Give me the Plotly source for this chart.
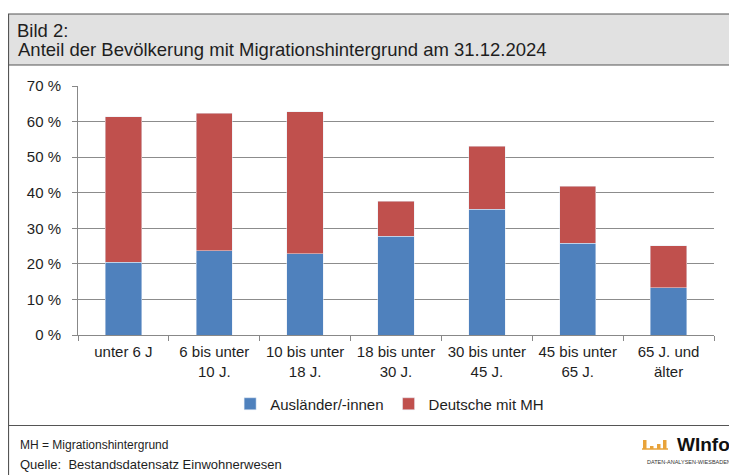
import plotly.graph_objects as go

categories = ["unter 6 J", "6 bis unter<br>10 J.", "10 bis unter<br>18 J.", "18 bis unter<br>30 J.",
              "30 bis unter<br>45 J.", "45 bis unter<br>65 J.", "65 J. und<br>älter"]
auslaender = [20.5, 23.7, 22.8, 27.8, 35.4, 25.8, 13.3]
deutsche_mh = [40.9, 38.6, 39.9, 9.8, 17.6, 16.0, 11.8]
ytick_vals = [0, 10, 20, 30, 40, 50, 60, 70]
ytick_text = ["0 %", "10 %", "20 %", "30 %", "40 %", "50 %", "60 %", "70 %"]

# page body has an 8px margin: figure pixel = screen pixel - 8
OFF = 8
W, H = 737 - OFF, 475 - OFF
PL, PR, PT, PB = 78, 714, 86, 335          # plot area in screen pixels
L, R, T, B = PL - OFF, W - (PR - OFF), PT - OFF, H - (PB - OFF)
pw, ph = W - L - R, H - T - B

def px(x):
    return (x - OFF - L) / pw

def py(y):
    return (H - B - (y - OFF)) / ph

FONT = "Liberation Sans, Arial, sans-serif"
TXT = "#1e1e1e"

fig = go.Figure()
fig.add_bar(x=categories, y=auslaender, name="Ausländer/-innen", marker_color="#4F81BD", width=0.4)
fig.add_bar(x=categories, y=deutsche_mh, name="Deutsche mit MH", marker_color="#C0504D", width=0.4)

LC = "#555555"
shapes = [
    dict(type="rect", xref="paper", yref="paper", x0=px(8), x1=px(737), y0=py(65), y1=py(14),
         fillcolor="#e1e1e1", line=dict(width=0), layer="below"),
    dict(type="line", xref="paper", yref="paper", x0=px(8), x1=px(737), y0=py(14), y1=py(14),
         line=dict(color=LC, width=1.2)),
    dict(type="line", xref="paper", yref="paper", x0=px(8), x1=px(737), y0=py(65), y1=py(65),
         line=dict(color=LC, width=1.2)),
    dict(type="line", xref="paper", yref="paper", x0=px(8), x1=px(737), y0=py(425.5), y1=py(425.5),
         line=dict(color=LC, width=1.2)),
    dict(type="line", xref="paper", yref="paper", x0=px(8.5), x1=px(8.5), y0=py(14), y1=py(475),
         line=dict(color=LC, width=1.2)),
]
# logo icon (decoration)
for x0, h in [(643, 9), (650, 3), (657, 5), (663, 9)]:
    shapes.append(dict(type="rect", xref="paper", yref="paper", x0=px(x0), x1=px(x0 + 3.5),
                       y0=py(449), y1=py(449 - h), fillcolor="#E8A33A", line=dict(width=0)))
shapes.append(dict(type="line", xref="paper", yref="paper", x0=px(642), x1=px(668), y0=py(449), y1=py(449),
                   line=dict(color="#E8A33A", width=1.5)))

annotations = [
    dict(text="Bild 2:", x=px(15.5), y=py(31), xref="paper", yref="paper", xanchor="left", yanchor="middle",
         showarrow=False, font=dict(family=FONT, size=18.5, color=TXT)),
    dict(text="Anteil der Bevölkerung mit Migrationshintergrund am 31.12.2024", x=px(15.5), y=py(50),
         xref="paper", yref="paper", xanchor="left", yanchor="middle", showarrow=False,
         font=dict(family=FONT, size=18.5, color=TXT)),
    dict(text="MH = Migrationshintergrund", x=px(17.5), y=py(445), xref="paper", yref="paper",
         xanchor="left", yanchor="middle", showarrow=False, font=dict(family=FONT, size=12, color=TXT)),
    dict(text="Quelle:&nbsp; Bestandsdatensatz Einwohnerwesen", x=px(17.5), y=py(464), xref="paper",
         yref="paper", xanchor="left", yanchor="middle", showarrow=False,
         font=dict(family=FONT, size=13, color=TXT)),
    dict(text="<b>WInfo</b>", x=px(675), y=py(444), xref="paper", yref="paper",
         xanchor="left", yanchor="middle", showarrow=False, font=dict(family=FONT, size=19, color="#111111")),
    dict(text="DATEN-ANALYSEN-WIESBADEN", x=px(689), y=py(462), xref="paper", yref="paper",
         xanchor="center", yanchor="middle", showarrow=False, font=dict(family=FONT, size=5.5, color="#333333")),
]

fig.update_layout(
    width=W, height=H,
    margin=dict(l=L, r=R, t=T, b=B, autoexpand=False),
    paper_bgcolor="white", plot_bgcolor="white",
    barmode="stack",
    font=dict(family=FONT, size=15, color=TXT),
    showlegend=True,
    legend=dict(orientation="h", x=0.49, xanchor="center", y=py(404), yanchor="middle",
                font=dict(family=FONT, size=15, color=TXT), itemwidth=30, traceorder="normal",
                bgcolor="rgba(0,0,0,0)"),
    shapes=shapes,
    annotations=annotations,
    xaxis=dict(showline=True, linecolor="#888888", linewidth=1, ticks="outside", tickson="boundaries",
               ticklen=5, tickcolor="#888888", showgrid=False, tickfont=dict(size=15, color=TXT),
               ticklabelstandoff=3),
    yaxis=dict(range=[0, 70], tickvals=ytick_vals, ticktext=ytick_text, showline=True, linecolor="#888888",
               linewidth=1, ticks="outside", ticklen=5, tickcolor="#888888", showgrid=True,
               gridcolor="#8c8c8c", gridwidth=1, zeroline=False, tickfont=dict(size=15, color=TXT),
               ticklabelstandoff=8),
)

fig.write_html("out.html")
